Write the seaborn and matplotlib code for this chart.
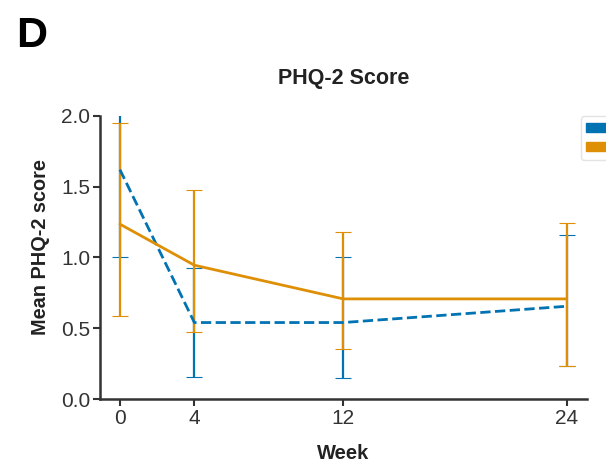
import numpy as np
import pandas as pd
import matplotlib
matplotlib.use("Agg")
import matplotlib.pyplot as plt
import seaborn as sns

# ----- DATA -----
weeks = [0, 4, 12, 24]
groups = ["Intervention", "Control"]

interv_mean = [1.62, 0.54, 0.54, 0.655]
interv_lo = [1.00, 0.155, 0.15, 0.23]
interv_hi = [2.24, 0.925, 1.00, 1.155]

ctrl_mean = [1.235, 0.945, 0.707, 0.707]
ctrl_lo = [0.585, 0.47, 0.35, 0.23]
ctrl_hi = [1.95, 1.475, 1.18, 1.24]

# ----- STYLE -----
sns.set_theme(style="ticks")
plt.rcParams["font.family"] = ["Liberation Sans", "DejaVu Sans"]
pal = sns.color_palette("colorblind")
colors = {"Intervention": pal[0], "Control": pal[1]}

df = pd.DataFrame({
    "Week": weeks * 2,
    "score": interv_mean + ctrl_mean,
    "group": [groups[0]] * len(weeks) + [groups[1]] * len(weeks),
})

fig = plt.figure(figsize=(6.06, 4.67), dpi=100)
ax = fig.add_axes([0.165, 0.1456, 0.803, 0.6064])

# error bars first (blue below orange)
for g, m, lo, hi, z in [("Intervention", interv_mean, interv_lo, interv_hi, 2),
                        ("Control", ctrl_mean, ctrl_lo, ctrl_hi, 3)]:
    m = np.array(m)
    yerr = [m - np.array(lo), np.array(hi) - m]
    ax.errorbar(weeks, m, yerr=yerr, fmt="none", ecolor=colors[g],
                elinewidth=1.6, capsize=5.5, capthick=0.8, zorder=z)

sns.lineplot(data=df, x="Week", y="score", hue="group", style="group",
             palette=colors, dashes={"Intervention": (3.7, 1.6), "Control": ""},
             linewidth=2.0, ax=ax, legend=False, zorder=4)

# legend with patches (labels run off the right edge, as in the original)
handles = [plt.Rectangle((0, 0), 1, 1, color=colors[g]) for g in groups]
leg = ax.legend(handles, groups, loc="upper left", bbox_to_anchor=(0.988, 1.0),
                borderaxespad=0, fontsize=10, labelspacing=0.35,
                frameon=True, handlelength=2.0)
leg.get_frame().set_edgecolor("#dddddd")

ax.set_xlim(-1.07, 25.07)
ax.set_ylim(0, 2.0)
ax.set_xticks(weeks)
ax.set_yticks([0.0, 0.5, 1.0, 1.5, 2.0])
ax.set_yticklabels(["0.0", "0.5", "1.0", "1.5", "2.0"])
ax.tick_params(axis="both", labelsize=15, length=5, width=1.5, color="#333333",
               labelcolor="#333333", pad=2)
for s in ["left", "bottom"]:
    ax.spines[s].set_linewidth(1.8)
    ax.spines[s].set_color("#333333")
sns.despine(ax=ax)

ax.set_xlabel("Week", fontsize=14.5, fontweight="bold", color="#222222", labelpad=12)
ax.set_ylabel("Mean PHQ-2 score", fontsize=14.3, fontweight="bold", color="#222222")
ax.yaxis.set_label_coords(-0.103, 0.535)
ax.set_title("PHQ-2 Score", fontsize=15.5, fontweight="bold", color="#222222", pad=23)

fig.text(0.027, 0.9, "D", fontsize=31, fontweight="bold", color="black")

fig.savefig("out.png", dpi=100)
